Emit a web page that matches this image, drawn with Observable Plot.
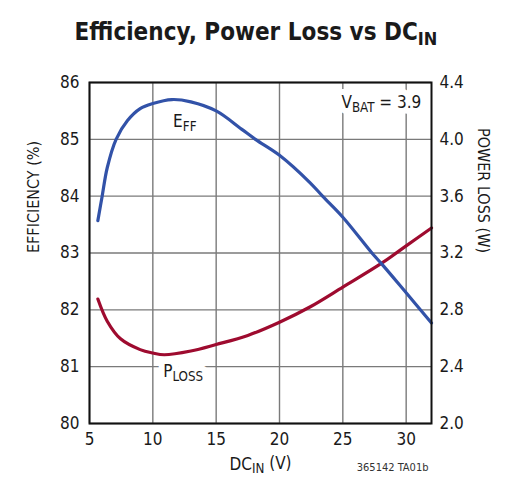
<!DOCTYPE html>
<html>
<head>
<meta charset="utf-8">
<script src="https://cdn.jsdelivr.net/npm/d3@7"></script>
<script src="https://cdn.jsdelivr.net/npm/@observablehq/plot@0.6"></script>
<style>
  body { margin: 0; background: #fff; }
  #wrap { position: relative; width: 528px; height: 500px; font-family: "Liberation Sans Narrow", "DejaVu Sans Condensed", "Arial Narrow", sans-serif; }
  .title { position: absolute; left: 0; top: 17px; width: 512px; text-align: center; font-size: 24px; font-weight: bold; color: #1a1a1a; line-height: 30px; }
  .title sub { font-size: 18px; vertical-align: -5px; line-height: 0; }
  #chart { position: absolute; left: 0; top: 60px; }
</style>
</head>
<body>
<div id="wrap">
  <div class="title">Efficiency, Power Loss vs DC<sub>IN</sub></div>
  <div id="chart"></div>
</div>
<script>
// efficiency curve (%)
const dcinEff = [5.66, 6.0, 6.4, 7.1, 8, 9, 10, 11.5, 13, 15, 17, 18.1, 20, 22.4, 23.4, 25, 27.3, 28.1, 30, 32];
const eff = [83.57, 84.0, 84.5, 85.0, 85.33, 85.54, 85.63, 85.70, 85.66, 85.50, 85.18, 85.0, 84.72, 84.24, 84.0, 83.63, 83.0, 82.8, 82.3, 81.77];

// power loss curve (W)
const dcinLoss = [5.66, 6.4, 7.45, 9, 10, 10.9, 13, 15, 17.5, 20, 22.4, 25, 28.1, 30, 32];
const loss = [2.876, 2.72, 2.596, 2.52, 2.496, 2.484, 2.51, 2.556, 2.62, 2.713, 2.82, 2.96, 3.13, 3.25, 3.376];

const xTicks = [5, 10, 15, 20, 25, 30];
const effTicks = [80, 81, 82, 83, 84, 85, 86];
const lossTicks = [2.0, 2.4, 2.8, 3.2, 3.6, 4.0, 4.4];

// in-plot labels: [base, subscript, rest]
const labelParts = [["E", "FF", ""], ["P", "LOSS", ""], ["V", "BAT", " = 3.9"]];
const labelX = [11.6, 10.82, 24.89];
const labelY = [85.22, 80.81, 85.55];

// power loss shares the left scale: 2.0 W -> 80 %, 4.4 W -> 86 %
const lossToEff = p => 80 + (p - 2) / 0.4;

const effData = dcinEff.map((v, i) => ({v, y: eff[i]}));
const lossData = dcinLoss.map((v, i) => ({v, y: lossToEff(loss[i])}));
const labels = labelParts.map((p, i) => ({i, x: labelX[i], y: labelY[i]}));

const blue = "#3252a8";
const red = "#9e0b2f";
const ink = "#1a1a1a";
const font = "'Liberation Sans Narrow', 'DejaVu Sans Condensed', 'Arial Narrow', sans-serif";

const labelOpts = {x: "x", y: "y", text: d => labelParts[d.i].join(""), textAnchor: "start", lineAnchor: "bottom", fontSize: 17};

const chart = Plot.plot({
  width: 528,
  height: 440,
  marginTop: 22,
  marginBottom: 77,
  marginLeft: 89,
  marginRight: 97,
  style: {fontFamily: font, color: ink, background: "white"},
  x: {domain: [5, 32]},
  y: {domain: [80, 86]},
  marks: [
    Plot.gridX(xTicks, {stroke: "#7a7a7a", strokeOpacity: 1, strokeWidth: 1.4}),
    Plot.gridY(effTicks, {stroke: "#7a7a7a", strokeOpacity: 1, strokeWidth: 1.4}),
    Plot.axisX({ticks: xTicks, tickSize: 0, tickPadding: 9, fontSize: 17, label: null}),
    Plot.axisY({ticks: effTicks, tickSize: 0, tickPadding: 10, fontSize: 17, label: null, tickFormat: d => String(d)}),
    Plot.axisY({anchor: "right", ticks: effTicks, tickSize: 0, tickPadding: 8, fontSize: 17, label: null,
      tickFormat: (d, i) => lossTicks[i].toFixed(1)}),
    Plot.line(lossData, {x: "v", y: "y", stroke: red, strokeWidth: 3.2, curve: "catmull-rom"}),
    Plot.line(effData, {x: "v", y: "y", stroke: blue, strokeWidth: 3.2, curve: "catmull-rom"}),
    // white halo under the labels, then the labels themselves
    Plot.text(labels, {...labelOpts, fill: "white", stroke: "white", strokeWidth: 12, className: "sublabel"}),
    Plot.text(labels, {...labelOpts, fill: ink, className: "sublabel"}),
    Plot.frame({stroke: "#111", strokeWidth: 2}),
    Plot.text(["EFFICIENCY (%)"], {frameAnchor: "left", dx: -56, rotate: -90, fontSize: 16, fill: ink}),
    Plot.text(["POWER LOSS (W)"], {frameAnchor: "right", dx: 52, rotate: 90, fontSize: 16, fill: ink}),
    Plot.text(["DC|IN| (V)"], {frameAnchor: "bottom", dy: 46, fontSize: 17, fill: ink, className: "xlabel"}),
    Plot.text(["365142 TA01b"], {frameAnchor: "bottom-right", textAnchor: "end", dx: -3, dy: 47, fontSize: 11, fill: "#333"})
  ]
});

document.getElementById("chart").append(chart);

// build subscripts with tspans
function subscript(node, base, sub, rest) {
  const t = d3.select(node);
  t.text(null);
  t.append("tspan").text(base);
  t.append("tspan").attr("font-size", "0.78em").attr("dy", "0.28em").text(sub);
  if (rest) t.append("tspan").attr("dy", "-0.22em").text(rest);
}
d3.select(chart).selectAll(".sublabel").each(function() {
  d3.select(this).selectAll("text").each(function(d, k) {
    const p = labelParts[k];
    subscript(this, p[0], p[1], p[2]);
  });
});
d3.select(chart).selectAll(".xlabel text").each(function() {
  subscript(this, "DC", "IN", " (V)");
});
</script>
</body>
</html>
